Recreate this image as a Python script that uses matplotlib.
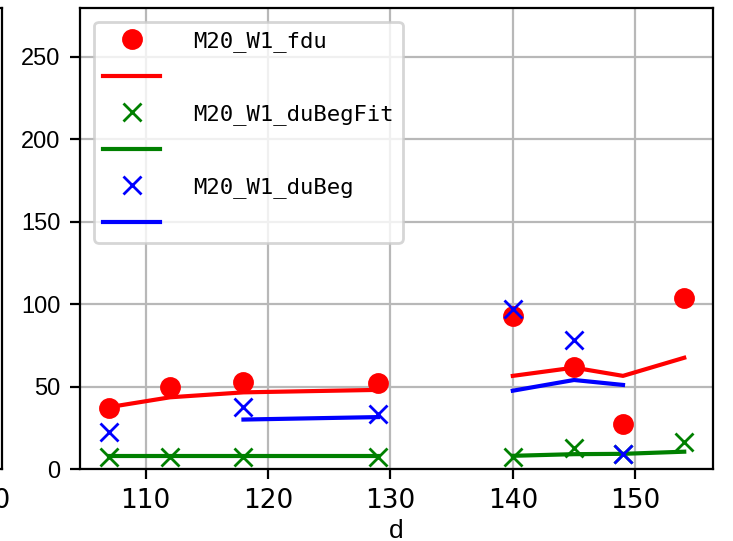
import numpy as np
import matplotlib
matplotlib.use("Agg")
import matplotlib.pyplot as plt
from matplotlib.lines import Line2D

## Data (two measurement segments)
d_seg1 = [107, 112, 118, 129]
d_seg2 = [140, 145, 149, 154]

fdu_seg1 = [37, 50, 53, 52]
fdu_seg2 = [93, 62, 27, 104]
fdu_fit_seg1 = [37.5, 43.5, 46.5, 48]
fdu_fit_seg2 = [56.5, 61.5, 56.5, 67.5]

dubegfit_seg1 = [7.5, 7.5, 7.5, 7.5]
dubegfit_seg2 = [7.5, 13, 9, 16.5]
dubegfit_line_seg1 = [7.6, 7.6, 7.6, 7.6]
dubegfit_line_seg2 = [8, 9, 9.2, 10.5]

dubeg_x_seg1 = [107, 118, 129]
dubeg_seg1 = [22.5, 37.5, 33.5]
dubeg_x_seg2 = [140, 145, 149]
dubeg_seg2 = [97, 78.5, 9]
dubeg_line_x_seg1 = [118, 129]
dubeg_line_seg1 = [30, 31.5]
dubeg_line_x_seg2 = [140, 145, 149]
dubeg_line_seg2 = [47.5, 54, 51]

labels = ['M20_W1_fdu', '', 'M20_W1_duBegFit', '', 'M20_W1_duBeg', '']

W, H = 733, 541
dpi = 200
fig = plt.figure(figsize=(W / dpi, H / dpi), dpi=dpi)

# left neighbour subplot, almost entirely outside the crop
ax0 = fig.add_axes([-600 / W, 72 / H, 601.5 / W, 461.5 / H])
ax0.set_xlim(0, 102.8)
ax0.set_xticks([0, 50, 100])
ax0.set_yticks([])
ax0.set_ylim(0, 280)
for lab in ax0.get_xticklabels():
    lab.set_family(['Liberation Sans Narrow', 'DejaVu Sans'])
    lab.set_fontsize(9.5)

ax = fig.add_axes([80 / W, 72 / H, 633 / W, 461.5 / H])
ax.grid(True, color='#b8b8b8', zorder=0)
ax.set_axisbelow(True)

ms = 6.5
ax.plot(d_seg1 + d_seg2, fdu_seg1 + fdu_seg2, 'o', color='r', ls='none', ms=ms)
ax.plot(d_seg1, fdu_fit_seg1, '-', color='r')
ax.plot(d_seg2, fdu_fit_seg2, '-', color='r')
ax.plot(d_seg1 + d_seg2, dubegfit_seg1 + dubegfit_seg2, 'x', color='g', ls='none', ms=ms)
ax.plot(d_seg1, dubegfit_line_seg1, '-', color='g')
ax.plot(d_seg2, dubegfit_line_seg2, '-', color='g')
ax.plot(dubeg_x_seg1 + dubeg_x_seg2, dubeg_seg1 + dubeg_seg2, 'x', color='b', ls='none', ms=ms)
ax.plot(dubeg_line_x_seg1, dubeg_line_seg1, '-', color='b')
ax.plot(dubeg_line_x_seg2, dubeg_line_seg2, '-', color='b')

ax.set_ylim(0, 280)
ax.set_yticks([0, 50, 100, 150, 200, 250])
ax.set_xticks([110, 120, 130, 140, 150])
for lab in ax.get_yticklabels():
    lab.set_family(['Liberation Sans', 'DejaVu Sans'])
    lab.set_fontsize(8.5)
for lab in ax.get_xticklabels():
    lab.set_family(['Liberation Sans Narrow', 'DejaVu Sans'])
    lab.set_fontsize(9.5)
ax.set_xlabel('d', family=['Liberation Sans', 'DejaVu Sans'], fontsize=9.5, labelpad=1.5)

handles = [
    Line2D([], [], marker='o', color='r', ls='none', ms=ms),
    Line2D([], [], color='r'),
    Line2D([], [], marker='x', color='g', ls='none', ms=ms),
    Line2D([], [], color='g'),
    Line2D([], [], marker='x', color='b', ls='none', ms=ms),
    Line2D([], [], color='b'),
]
ax.legend(handles, labels, loc='upper left', prop={'family': 'DejaVu Sans Mono', 'size': 8},
          handlelength=2.55, handletextpad=1.5, labelspacing=0.72, borderaxespad=0.65)

fig.savefig('out.png', dpi=dpi)
